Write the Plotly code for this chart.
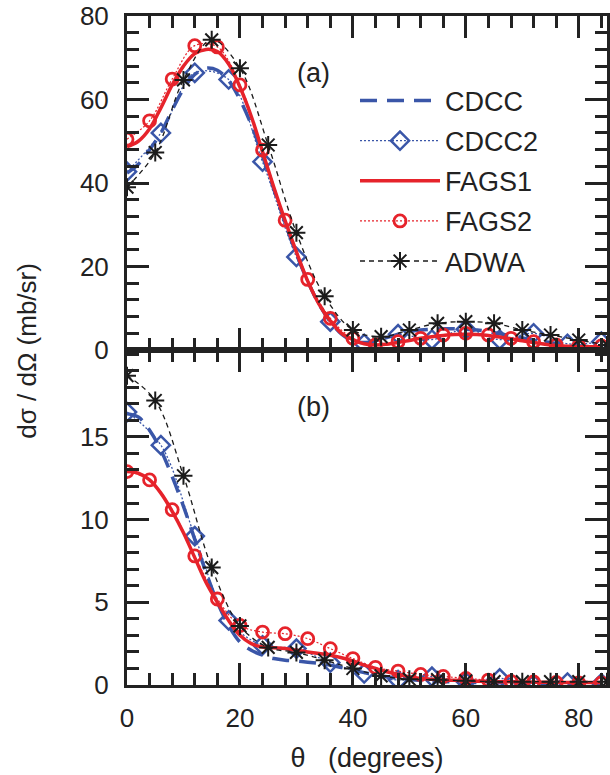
import plotly.graph_objects as go
from plotly.subplots import make_subplots

# ---------------- data ----------------
# angles
th2 = list(range(0, 85, 2))          # dense curves
th4 = list(range(0, 85, 4))          # FAGS2 markers
th5 = list(range(0, 86, 5))          # ADWA markers
th6 = list(range(0, 85, 6))          # CDCC2 markers

# panel (a)
cdcc_a = [42.4, 44.5, 48.0, 52.0, 57.5, 62.5, 66.0, 67.5, 67.0, 64.5, 60.0, 54.0, 46.5, 38.5,
          30.5, 23.0, 16.5, 11.0, 6.8, 3.8, 2.2, 1.8, 2.2, 3.0, 3.8, 4.4, 4.8, 5.0, 5.1, 5.1,
          5.0, 4.8, 4.4, 3.9, 3.4, 2.9, 2.4, 2.0, 1.6, 1.3, 1.0, 0.8, 0.7]
cdcc2_a = [42.7, 52.0, 66.4, 64.8, 45.1, 22.3, 6.8, 1.5, 3.8, 2.5, 5.0, 2.5, 4.0, 1.5, 2.0]
fags1_a = [48.7, 50.0, 53.0, 58.0, 63.5, 68.0, 71.0, 72.0, 71.5, 68.5, 63.0, 56.0, 47.5, 39.0,
           31.0, 23.5, 16.5, 11.0, 7.0, 4.0, 2.5, 1.5, 1.2, 1.4, 1.8, 2.3, 2.8, 3.2, 3.5, 3.7,
           3.8, 3.7, 3.5, 3.1, 2.7, 2.2, 1.8, 1.4, 1.1, 0.9, 0.8, 0.8, 0.8]
fags2_a = [50.5, 54.9, 64.9, 72.9, 72.6, 63.5, 47.9, 31.1, 16.9, 7.6, 2.8, 1.2, 2.0, 2.8, 3.6,
           4.0, 3.6, 2.8, 2.0, 1.2, 1.0, 1.0]
adwa_a = [39.0, 47.3, 64.7, 74.3, 67.5, 49.1, 28.1, 12.9, 4.8, 3.2, 4.8, 6.4, 6.8, 6.4, 4.8,
          3.6, 2.4, 1.2]

# panel (b)
cdcc_b = [16.4, 16.2, 15.4, 14.2, 12.6, 10.8, 8.8, 6.8, 5.0, 3.6, 2.6, 2.1, 1.8, 1.6, 1.5,
          1.45, 1.38, 1.3, 1.2, 1.05, 0.9, 0.75, 0.6, 0.5, 0.4, 0.33, 0.27, 0.22, 0.2, 0.18,
          0.16, 0.15, 0.14, 0.13, 0.12, 0.11, 0.1, 0.1, 0.1, 0.1, 0.1, 0.1, 0.1]
cdcc2_b = [16.5, 14.5, 9.0, 3.9, 2.4, 2.2, 1.35, 0.7, 0.3, 0.5, 0.2, 0.4, 0.05, 0.15, 0.1]
fags1_b = [12.9, 12.8, 12.4, 11.6, 10.5, 9.2, 7.7, 6.2, 5.0, 3.9, 3.0, 2.5, 2.3, 2.25, 2.2,
           2.1, 2.0, 1.9, 1.8, 1.65, 1.45, 1.2, 1.0, 0.8, 0.65, 0.5, 0.4, 0.35, 0.3, 0.28,
           0.25, 0.23, 0.21, 0.2, 0.19, 0.18, 0.17, 0.16, 0.16, 0.15, 0.15, 0.15, 0.15]
fags2_b = [12.9, 12.4, 10.6, 7.8, 5.2, 3.6, 3.2, 3.1, 2.8, 2.2, 1.6, 1.07, 0.84, 0.64, 0.52,
           0.4, 0.3, 0.22, 0.18, 0.15, 0.12, 0.12]
adwa_b = [18.7, 17.2, 12.65, 7.1, 3.57, 2.27, 1.97, 1.5, 1.0, 0.55, 0.35, 0.32, 0.25, 0.2,
          0.2, 0.2, 0.2, 0.2]

names = ["CDCC", "CDCC2", "FAGS1", "FAGS2", "ADWA"]
x_ticks = [0, 20, 40, 60, 80]
ya_ticks = [0, 20, 40, 60, 80]
yb_ticks = [0, 5, 10, 15]

# ---------------- styling ----------------
BLUE = "#3a56a8"
RED = "#e6232b"
BLACK = "#1b1b1b"
AX = "#222222"
FONT = "Liberation Sans, Arial, Helvetica, sans-serif"

fig = make_subplots(rows=2, cols=1, shared_xaxes=True, vertical_spacing=0)

def add_set(row, cdcc, cdcc2, fags1, fags2, adwa, show):
    fig.add_trace(go.Scatter(x=th2, y=cdcc, mode="lines", name=names[0], legendgroup="g1",
                             showlegend=show, line=dict(color=BLUE, width=3.5, dash="17px,10px",
                                                        shape="spline")), row=row, col=1)
    fig.add_trace(go.Scatter(x=th6, y=cdcc2, mode="lines+markers", name=names[1], legendgroup="g2",
                             showlegend=show,
                             line=dict(color=BLUE, width=1.3, dash="2px,2px", shape="spline"),
                             marker=dict(symbol="diamond-open", size=14, color=BLUE,
                                         line=dict(width=2.5, color=BLUE))), row=row, col=1)
    fig.add_trace(go.Scatter(x=th2, y=fags1, mode="lines", name=names[2], legendgroup="g3",
                             showlegend=show, line=dict(color=RED, width=3.5, shape="spline")),
                  row=row, col=1)
    fig.add_trace(go.Scatter(x=th4, y=fags2, mode="lines+markers", name=names[3], legendgroup="g4",
                             showlegend=show,
                             line=dict(color=RED, width=1.2, dash="2px,2px", shape="spline"),
                             marker=dict(symbol="circle-open", size=12, color=RED,
                                         line=dict(width=2.8, color=RED))), row=row, col=1)
    fig.add_trace(go.Scatter(x=th5, y=adwa, mode="lines+markers", name=names[4], legendgroup="g5",
                             showlegend=show,
                             line=dict(color=BLACK, width=1.3, dash="5px,4px", shape="spline"),
                             marker=dict(symbol="asterisk-open", size=15, color=BLACK,
                                         line=dict(width=2, color=BLACK))), row=row, col=1)

add_set(1, cdcc_a, cdcc2_a, fags1_a, fags2_a, adwa_a, True)
add_set(2, cdcc_b, cdcc2_b, fags1_b, fags2_b, adwa_b, False)

axis_common = dict(showline=True, linewidth=3, linecolor=AX, mirror="allticks",
                   ticks="inside", ticklen=22, tickwidth=3, tickcolor=AX,
                   showgrid=False, zeroline=False,
                   tickfont=dict(family=FONT, size=26, color="#222"))

fig.update_xaxes(range=[0, 85], tickvals=x_ticks, **axis_common,
                 minor=dict(dtick=4, tick0=0, ticks="inside", ticklen=12, tickwidth=3,
                            tickcolor=AX, showgrid=False))
fig.update_xaxes(showticklabels=False, row=1, col=1)
fig.update_xaxes(ticklabelstandoff=8, row=2, col=1,
                 title=dict(text="θ\u00a0\u00a0\u00a0(degrees)", standoff=16,
                            font=dict(family=FONT, size=27, color="#222")))

fig.update_yaxes(**axis_common)
fig.update_yaxes(range=[0, 80], tickvals=ya_ticks, ticklabelstandoff=10, row=1, col=1,
                 minor=dict(dtick=4, tick0=0, ticks="inside", ticklen=12, tickwidth=3,
                            tickcolor=AX, showgrid=False))
fig.update_yaxes(range=[0, 20.25], tickvals=yb_ticks, ticklabelstandoff=10, row=2, col=1,
                 minor=dict(dtick=1, tick0=0, ticks="inside", ticklen=12, tickwidth=3,
                            tickcolor=AX, showgrid=False))

fig.update_layout(yaxis=dict(domain=[0.5007, 1.0]), yaxis2=dict(domain=[0.0, 0.5007]))

fig.add_annotation(text="dσ / dΩ (mb/sr)", xref="paper", yref="paper", x=-0.21, y=0.5,
                   xanchor="center", yanchor="middle", textangle=-90, showarrow=False,
                   font=dict(family=FONT, size=26, color="#222"))
fig.add_annotation(text="(a)", xref="paper", yref="paper", x=0.389, y=0.915,
                   xanchor="center", yanchor="middle", showarrow=False,
                   font=dict(family=FONT, size=27, color="#222"))
fig.add_annotation(text="(b)", xref="paper", yref="paper", x=0.389, y=0.4155,
                   xanchor="center", yanchor="middle", showarrow=False,
                   font=dict(family=FONT, size=27, color="#222"))

fig.update_layout(
    width=610, height=775,
    margin=dict(l=127, r=0, t=16, b=90, pad=0),
    paper_bgcolor="white", plot_bgcolor="white",
    font=dict(family=FONT, color="#222"),
    legend=dict(x=0.475, y=0.9095, xanchor="left", yanchor="top",
                bgcolor="rgba(0,0,0,0)", itemwidth=80, tracegroupgap=2,
                font=dict(family=FONT, size=27, color="#222")),
)

fig.write_html("out.html")
